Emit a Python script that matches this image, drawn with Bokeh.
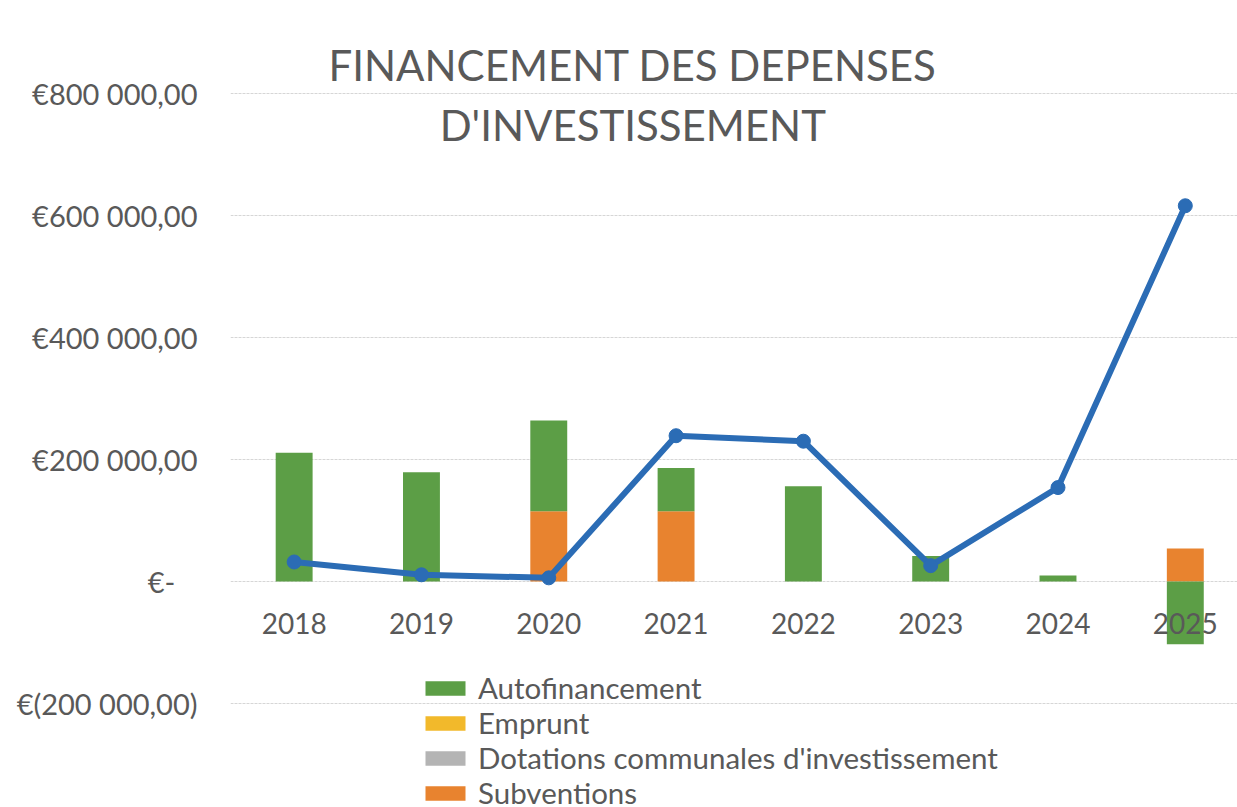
import numpy as np
from bokeh.plotting import figure
from bokeh.models import (Range1d, FixedTicker, Legend, LegendItem, Label,
                          ColumnDataSource)
from bokeh.core.properties import value
from bokeh.embed import file_html
from bokeh.resources import INLINE

# ---- data ----
years = ["2018", "2019", "2020", "2021", "2022", "2023", "2024", "2025"]
autofinancement = [211000, 179000, 149000, 71000, 156000, 42000, 10000, -103000]
emprunt = [0, 0, 0, 0, 0, 0, 0, 0]
dotations = [0, 0, 0, 0, 0, 0, 0, 0]
subventions = [0, 0, 115000, 115000, 0, 0, 0, 54000]
depenses = [32000, 11000, 6000, 239000, 230000, 26000, 154000, 616000]

y_ticks = [-200000, 0, 200000, 400000, 600000, 800000]
y_tick_labels = ["€(200 000,00)", "€-\u00a0\u00a0\u00a0", "€200 000,00",
                 "€400 000,00", "€600 000,00", "€800 000,00"]
title_lines = ["FINANCEMENT DES DEPENSES", "D'INVESTISSEMENT"]

FONT = "Lato"
TXT = "#595959"
C_GREEN = "#5c9e46"
C_YELLOW = "#f2b92b"
C_GRAY = "#b4b4b4"
C_ORANGE = "#e8832f"
C_BLUE = "#2b6cb5"

x = np.arange(len(years), dtype=float)

# stacking: positives upward from 0 (Subventions first), negatives downward
series = [("Subventions", subventions, C_ORANGE),
          ("Dotations communales d'investissement", dotations, C_GRAY),
          ("Emprunt", emprunt, C_YELLOW),
          ("Autofinancement", autofinancement, C_GREEN)]
pos_base = np.zeros(len(years))
neg_base = np.zeros(len(years))
stacked = {}
for name, vals, col in series:
    v = np.array(vals, dtype=float)
    bottom = np.where(v >= 0, pos_base, neg_base)
    top = bottom + v
    pos_base = np.where(v >= 0, top, pos_base)
    neg_base = np.where(v < 0, top, neg_base)
    stacked[name] = (bottom, top, col)

p = figure(width=1237, height=807, output_backend="svg", toolbar_location=None,
           x_range=Range1d(-0.5, 7.41), y_range=Range1d(-370500, 952500),
           min_border_left=230, min_border_right=0, min_border_top=0,
           min_border_bottom=0)
p.outline_line_color = None
p.background_fill_color = "white"
p.border_fill_color = "white"
p.xaxis.visible = False
p.xgrid.visible = False

p.yaxis.ticker = FixedTicker(ticks=y_ticks)
p.yaxis.major_label_overrides = dict(zip(y_ticks, y_tick_labels))
p.yaxis.major_label_text_font = FONT
p.yaxis.major_label_text_font_size = "29px"
p.yaxis.major_label_text_color = TXT
p.yaxis.axis_line_color = None
p.yaxis.major_tick_line_color = None
p.yaxis.minor_tick_line_color = None
p.yaxis.major_label_standoff = 27
p.ygrid.ticker = FixedTicker(ticks=y_ticks)
p.ygrid.grid_line_color = "#d6d6d6"
p.ygrid.grid_line_width = 1
p.ygrid.grid_line_dash = "3 1"

renderers = {}
for name, vals, col in series:
    bottom, top, c = stacked[name]
    src = ColumnDataSource(dict(x=x, bottom=bottom, top=top))
    renderers[name] = p.vbar(x="x", bottom="bottom", top="top", width=0.29,
                             source=src, fill_color=c, line_color=None)

p.line(x, depenses, line_color=C_BLUE, line_width=6, line_join="round")
p.scatter(x, depenses, size=14, fill_color=C_BLUE, line_color=C_BLUE)

# category labels next to the zero line
p.text(x=x, y=np.zeros(len(years)), text=years, y_offset=42,
       text_align="center", text_baseline="middle",
       text_font=value(FONT), text_font_size="28px", text_color=TXT)

# title
for i, line in enumerate(title_lines):
    p.add_layout(Label(x=2.66, y=846000 - i * 98400, text=line,
                       text_align="center", text_baseline="middle",
                       text_font=FONT, text_font_size="42px", text_color=TXT))

legend = Legend(items=[
    LegendItem(label="Autofinancement", renderers=[renderers["Autofinancement"]]),
    LegendItem(label="Emprunt", renderers=[renderers["Emprunt"]]),
    LegendItem(label="Dotations communales d'investissement",
               renderers=[renderers["Dotations communales d'investissement"]]),
    LegendItem(label="Subventions", renderers=[renderers["Subventions"]]),
], location=(190, -3), orientation="vertical")
legend.label_text_font = FONT
legend.label_text_font_size = "29.5px"
legend.label_text_color = TXT
legend.glyph_width = 50
legend.glyph_height = 18
legend.label_height = 35
legend.spacing = 0
legend.padding = 0
legend.margin = 0
legend.label_standoff = 8
legend.border_line_color = None
legend.background_fill_alpha = 0
p.add_layout(legend)

open("out.html", "w").write(file_html(p, INLINE))
